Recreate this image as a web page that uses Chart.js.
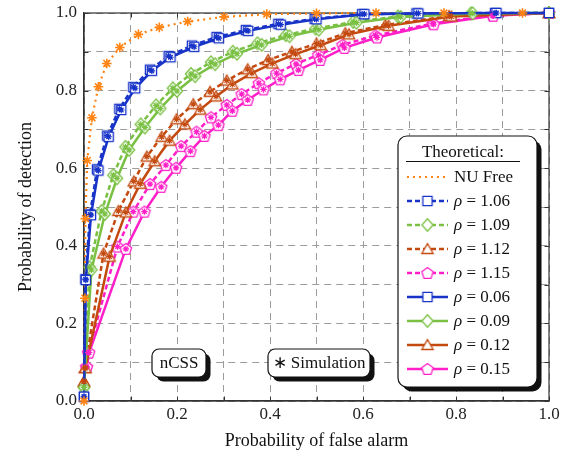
<!DOCTYPE html>
<html><head><meta charset="utf-8">
<script src="https://cdn.jsdelivr.net/npm/chart.js@4.4.1/dist/chart.umd.min.js"></script>
<style>html,body{margin:0;padding:0;background:#fff}</style>
</head><body>
<canvas id="c" width="570" height="455"></canvas>
<script>
// ---------- text ----------
const xTickLabels = ['0.0','','0.2','','0.4','','0.6','','0.8','','1.0'];
const yTickLabels = ['0.0','','0.2','','0.4','','0.6','','0.8','','1.0'];
const xTitle = 'Probability of false alarm';
const yTitle = 'Probability of detection';
const legendTitle = 'Theoretical:';
const annotTexts = ['nCSS', '\u2217 Simulation'];
const seriesLabels = ['NU Free','ρ = 1.06','ρ = 1.09','ρ = 1.12','ρ = 1.15','ρ = 0.06','ρ = 0.09','ρ = 0.12','ρ = 0.15'];

// ---------- data (Pfa, Pd) ----------
const nuFreeX = [0, 0.002, 0.003, 0.007, 0.017, 0.031, 0.049, 0.077, 0.117, 0.162, 0.223, 0.301, 0.393, 0.500, 0.628, 0.774, 0.943, 1.0];
const nuFreeY = [0.0, 0.265, 0.47, 0.62, 0.73, 0.81, 0.87, 0.911, 0.945, 0.963, 0.978, 0.990, 0.997, 0.999, 1.0, 1.0, 1.0, 1.0];

const rho106X = [0, 0.003, 0.013, 0.028, 0.050, 0.076, 0.106, 0.142, 0.182, 0.232, 0.285, 0.348, 0.418, 0.496, 0.598, 0.715, 0.884, 1.0];
const rho106Y = [0.011, 0.314, 0.481, 0.597, 0.684, 0.753, 0.809, 0.854, 0.889, 0.916, 0.938, 0.956, 0.972, 0.985, 0.997, 0.999, 1.0, 1.0];
const rho006X = [0, 0.004, 0.015, 0.031, 0.053, 0.080, 0.110, 0.146, 0.186, 0.237, 0.290, 0.353, 0.423, 0.500, 0.603, 0.719, 0.887, 1.0];
const rho006Y = [0.011, 0.312, 0.479, 0.594, 0.681, 0.750, 0.806, 0.851, 0.886, 0.913, 0.935, 0.954, 0.970, 0.984, 0.997, 0.999, 1.0, 1.0];

const rho109X = [0, 0.012, 0.038, 0.063, 0.089, 0.122, 0.155, 0.191, 0.230, 0.273, 0.320, 0.373, 0.434, 0.498, 0.579, 0.675, 0.832, 1.0];
const rho109Y = [0.035, 0.345, 0.490, 0.582, 0.655, 0.713, 0.762, 0.806, 0.843, 0.873, 0.900, 0.922, 0.943, 0.960, 0.977, 0.991, 0.999, 1.0];
const rho009X = [0, 0.016, 0.045, 0.071, 0.097, 0.131, 0.164, 0.200, 0.239, 0.282, 0.329, 0.382, 0.442, 0.505, 0.586, 0.681, 0.836, 1.0];
const rho009Y = [0.035, 0.338, 0.482, 0.574, 0.647, 0.705, 0.754, 0.799, 0.837, 0.868, 0.895, 0.918, 0.940, 0.957, 0.975, 0.990, 0.999, 1.0];

const rho112X = [0, 0.002, 0.042, 0.074, 0.107, 0.135, 0.167, 0.199, 0.235, 0.271, 0.307, 0.352, 0.396, 0.447, 0.500, 0.562, 0.648, 0.785, 1.0];
const rho112Y = [0.050, 0.085, 0.380, 0.490, 0.566, 0.630, 0.681, 0.726, 0.765, 0.797, 0.826, 0.855, 0.879, 0.900, 0.921, 0.948, 0.969, 0.992, 1.0];
const rho012X = [0, 0.003, 0.055, 0.090, 0.121, 0.152, 0.184, 0.217, 0.250, 0.284, 0.319, 0.361, 0.405, 0.455, 0.509, 0.570, 0.655, 0.790, 1.0];
const rho012Y = [0.050, 0.085, 0.372, 0.486, 0.560, 0.618, 0.671, 0.713, 0.751, 0.785, 0.816, 0.845, 0.870, 0.894, 0.917, 0.945, 0.967, 0.991, 1.0];

const rho115X = [0.005, 0.009, 0.072, 0.106, 0.142, 0.176, 0.209, 0.242, 0.273, 0.307, 0.339, 0.376, 0.414, 0.456, 0.504, 0.556, 0.627, 0.750, 0.879, 1.0];
const rho115Y = [0.088, 0.125, 0.398, 0.488, 0.559, 0.608, 0.657, 0.694, 0.731, 0.763, 0.791, 0.819, 0.845, 0.869, 0.892, 0.918, 0.942, 0.973, 0.994, 1.0];
const rho015X = [0.006, 0.011, 0.090, 0.130, 0.166, 0.198, 0.229, 0.259, 0.289, 0.319, 0.352, 0.386, 0.422, 0.461, 0.508, 0.560, 0.630, 0.752, 0.880, 1.0];
const rho015Y = [0.088, 0.125, 0.392, 0.488, 0.552, 0.601, 0.644, 0.683, 0.711, 0.748, 0.776, 0.803, 0.829, 0.853, 0.879, 0.910, 0.937, 0.971, 0.993, 1.0];

// ---------- style ----------
const COL = {orange:'#ff8414', blue:'#1733c8', green:'#79c043', red:'#c4490f', pink:'#ff1ec8'};
const SERIF = '"Liberation Serif", "Times New Roman", serif';

function makeMarker(type, color) {
  const s = 18, c = document.createElement('canvas');
  c.width = s; c.height = s;
  const g = c.getContext('2d');
  g.translate(s / 2, s / 2);
  g.beginPath();
  if (type === 'square') {
    g.rect(-4.6, -4.6, 9.2, 9.2);
  } else if (type === 'diamond') {
    g.moveTo(0, -6.3); g.lineTo(5.6, 0); g.lineTo(0, 6.3); g.lineTo(-5.6, 0); g.closePath();
  } else {
    const n = type === 'triangle' ? 3 : 5, r = type === 'triangle' ? 6.6 : 6.0;
    for (let k = 0; k < n; k++) {
      const a = -Math.PI / 2 + k * 2 * Math.PI / n;
      const px = r * Math.cos(a), py = r * Math.sin(a) + (type === 'triangle' ? 1.2 : 0.5);
      if (k === 0) g.moveTo(px, py); else g.lineTo(px, py);
    }
    g.closePath();
  }
  g.fillStyle = '#fff'; g.fill();
  g.lineWidth = 1.3; g.strokeStyle = color; g.stroke();
  return c;
}
const MK = {
  blue: makeMarker('square', COL.blue),
  green: makeMarker('diamond', COL.green),
  red: makeMarker('triangle', COL.red),
  pink: makeMarker('pentagon', COL.pink)
};

const pts = (xs, ys) => xs.map((x, i) => ({x: x, y: ys[i]}));

function curve(label, xs, ys, color, dash, marker, order) {
  return {
    label: label, data: pts(xs, ys), borderColor: color, backgroundColor: color, showLine: true,
    borderWidth: dash && dash[0] < 3 ? 2.2 : 2.5, borderDash: dash || [], tension: 0,
    pointStyle: marker || 'circle', pointRadius: marker ? 6 : 0, pointHoverRadius: marker ? 6 : 0,
    order: order, clip: false, isLegend: true, markerCanvas: marker || null
  };
}
function sim(xs, ys, color, r, w) {
  return {
    label: 'sim', data: pts(xs, ys), showLine: false, borderColor: color, backgroundColor: color,
    pointStyle: 'star', pointRadius: r, pointBorderWidth: w, order: 0, clip: false, isLegend: false
  };
}

const DASH = [5, 3];
const datasets = [
  curve(seriesLabels[0], nuFreeX, nuFreeY, COL.orange, [2, 4], null, 4),
  curve(seriesLabels[1], rho106X, rho106Y, COL.blue, DASH, MK.blue, 3),
  curve(seriesLabels[2], rho109X, rho109Y, COL.green, DASH, MK.green, 3),
  curve(seriesLabels[3], rho112X, rho112Y, COL.red, DASH, MK.red, 3),
  curve(seriesLabels[4], rho115X, rho115Y, COL.pink, DASH, MK.pink, 3),
  curve(seriesLabels[5], rho006X, rho006Y, COL.blue, null, MK.blue, 2),
  curve(seriesLabels[6], rho009X, rho009Y, COL.green, null, MK.green, 2),
  curve(seriesLabels[7], rho012X, rho012Y, COL.red, null, MK.red, 2),
  curve(seriesLabels[8], rho015X, rho015Y, COL.pink, null, MK.pink, 2),
  sim(nuFreeX.slice(0, -1), nuFreeY.slice(0, -1), COL.orange, 4.8, 1.6),
  sim(rho106X.slice(0, -1), rho106Y.slice(0, -1), COL.blue, 3.2, 1.2),
  sim(rho006X.slice(0, -1), rho006Y.slice(0, -1), COL.blue, 3.2, 1.2),
  sim(rho109X.slice(0, -1), rho109Y.slice(0, -1), COL.green, 3.2, 1.2),
  sim(rho009X.slice(0, -1), rho009Y.slice(0, -1), COL.green, 3.2, 1.2),
  sim(rho112X.slice(0, -1), rho112Y.slice(0, -1), COL.red, 3.2, 1.2),
  sim(rho012X.slice(0, -1), rho012Y.slice(0, -1), COL.red, 3.2, 1.2),
  sim(rho115X.slice(0, -1), rho115Y.slice(0, -1), COL.pink, 3.2, 1.2),
  sim(rho015X.slice(0, -1), rho015Y.slice(0, -1), COL.pink, 3.2, 1.2)
];

function roundRect(ctx, x, y, w, h, r) {
  ctx.beginPath();
  ctx.moveTo(x + r, y);
  ctx.lineTo(x + w - r, y); ctx.arcTo(x + w, y, x + w, y + r, r);
  ctx.lineTo(x + w, y + h - r); ctx.arcTo(x + w, y + h, x + w - r, y + h, r);
  ctx.lineTo(x + r, y + h); ctx.arcTo(x, y + h, x, y + h - r, r);
  ctx.lineTo(x, y + r); ctx.arcTo(x, y, x + r, y, r);
  ctx.closePath();
}
function shadowBox(ctx, x, y, w, h, r, off) {
  ctx.save();
  ctx.fillStyle = '#111';
  roundRect(ctx, x + off, y + off, w, h, r); ctx.fill();
  ctx.fillStyle = '#fff';
  roundRect(ctx, x, y, w, h, r); ctx.fill();
  ctx.lineWidth = 1.2; ctx.strokeStyle = '#111'; ctx.stroke();
  ctx.restore();
}

const framePlugin = {
  id: 'frame',
  beforeDatasetsDraw(chart) {
    const {ctx, chartArea: a, scales: {x, y}} = chart;
    ctx.save();
    ctx.strokeStyle = '#333'; ctx.lineWidth = 1.2;
    ctx.strokeRect(a.left, a.top, a.right - a.left, a.bottom - a.top);
    ctx.lineWidth = 1;
    ctx.beginPath();
    x.ticks.forEach(t => {
      const px = Math.round(x.getPixelForValue(t.value)) + 0.5;
      ctx.moveTo(px, a.bottom); ctx.lineTo(px, a.bottom - 4.5);
      ctx.moveTo(px, a.top); ctx.lineTo(px, a.top + 4.5);
    });
    y.ticks.forEach(t => {
      const py = Math.round(y.getPixelForValue(t.value)) + 0.5;
      ctx.moveTo(a.left, py); ctx.lineTo(a.left + 4.5, py);
      ctx.moveTo(a.right, py); ctx.lineTo(a.right - 4.5, py);
    });
    ctx.stroke();
    ctx.restore();
  },
  afterDraw(chart) {
    const ctx = chart.ctx;
    ctx.save();
    shadowBox(ctx, 152, 349, 54, 28, 7, 4.5);
    shadowBox(ctx, 268, 349, 102, 28, 7, 4.5);
    ctx.fillStyle = '#111';
    ctx.font = '17px ' + SERIF;
    ctx.textAlign = 'center'; ctx.textBaseline = 'middle';
    ctx.fillText(annotTexts[0], 179, 363.5);
    ctx.fillText(annotTexts[1], 319, 363.5);
    ctx.restore();

    ctx.save();
    shadowBox(ctx, 398, 136, 139, 251, 9, 4.5);
    ctx.fillStyle = '#111';
    ctx.font = '17px ' + SERIF;
    ctx.textAlign = 'center'; ctx.textBaseline = 'middle';
    ctx.fillText(legendTitle, 463, 152.5);
    ctx.beginPath(); ctx.lineWidth = 1; ctx.strokeStyle = '#111';
    ctx.moveTo(406, 161.5); ctx.lineTo(520, 161.5); ctx.stroke();
    const items = chart.data.datasets.filter(d => d.isLegend);
    items.forEach((d, i) => {
      const yy = 177 + i * 24;
      ctx.save();
      ctx.beginPath();
      ctx.setLineDash(d.borderDash || []);
      ctx.lineWidth = d.borderWidth; ctx.strokeStyle = d.borderColor;
      ctx.moveTo(407, yy); ctx.lineTo(448, yy); ctx.stroke();
      ctx.restore();
      if (d.markerCanvas) ctx.drawImage(d.markerCanvas, 427.5 - 9, yy - 9);
      ctx.fillStyle = '#111';
      ctx.textAlign = 'left'; ctx.textBaseline = 'middle';
      let tx = 454;
      let txt = d.label;
      if (txt.charAt(0) === 'ρ') {
        ctx.font = 'italic 17px ' + SERIF;
        ctx.fillText('ρ', tx, yy + 1);
        tx += ctx.measureText('ρ').width;
        txt = txt.slice(1);
      }
      ctx.font = '17px ' + SERIF;
      ctx.fillText(txt, tx, yy + 1);
    });
    ctx.restore();
  }
};

const tickFont = {family: SERIF, size: 17};
new Chart(document.getElementById('c'), {
  type: 'scatter',
  data: {datasets: datasets},
  options: {
    responsive: false, animation: false, devicePixelRatio: 1,
    layout: {padding: {left: 0, right: 21, top: 13, bottom: 0}},
    plugins: {legend: {display: false}, tooltip: {enabled: false}},
    scales: {
      x: {
        type: 'linear', min: 0, max: 1,
        ticks: {stepSize: 0.1, autoSkip: false, maxRotation: 0, color: '#222', font: tickFont, padding: 3,
          callback: (v, i) => xTickLabels[i]},
        grid: {color: '#9c9c9c', lineWidth: 1, drawTicks: false},
        border: {display: true, color: '#333', width: 1.2, dash: [7, 5]},
        title: {display: true, text: xTitle, color: '#111', font: {family: SERIF, size: 18}, padding: {top: 4, bottom: 3}},
        afterFit: s => { s.height = 54; s.paddingLeft = 0; s.paddingRight = 0; }
      },
      y: {
        type: 'linear', min: 0, max: 1,
        ticks: {stepSize: 0.1, autoSkip: false, color: '#222', font: tickFont, padding: 7,
          callback: (v, i) => yTickLabels[i]},
        grid: {color: '#9c9c9c', lineWidth: 1, drawTicks: false},
        border: {display: true, color: '#333', width: 1.2, dash: [7, 5]},
        title: {display: true, text: yTitle, color: '#111', font: {family: SERIF, size: 18}, padding: {top: 15, bottom: 0}},
        afterFit: s => { s.width = 84; s.paddingTop = 0; s.paddingBottom = 0; }
      }
    }
  },
  plugins: [framePlugin]
});
</script>
</body></html>
